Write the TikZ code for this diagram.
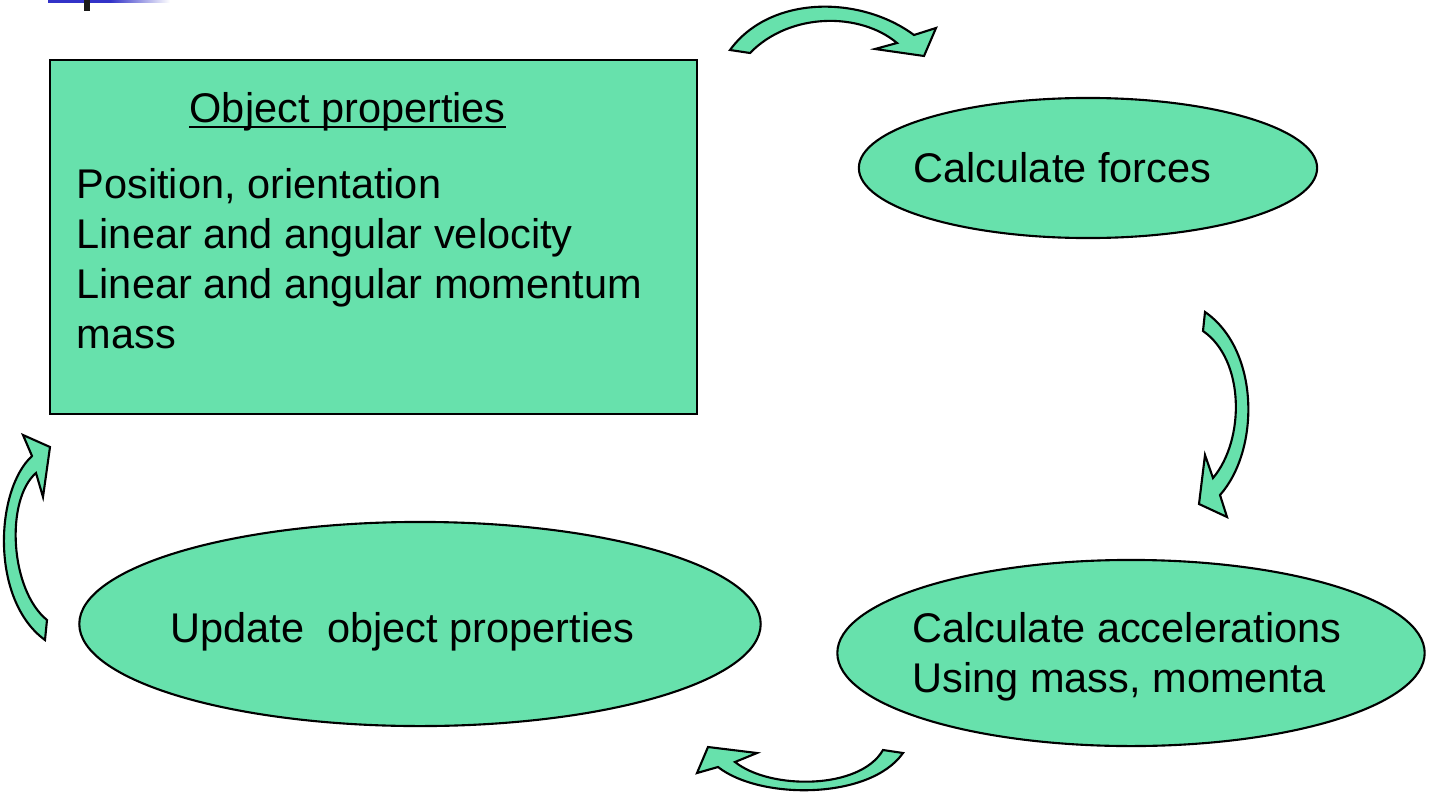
\documentclass[tikz,border=0pt]{standalone}
\usepackage{fontspec}
\setmainfont{Liberation Sans}
\usetikzlibrary{shapes.geometric}
\definecolor{stagefill}{RGB}{103,225,172}
\definecolor{barblue}{RGB}{50,50,200}

\begin{document}
\begin{tikzpicture}[x=0.01cm, y=-0.01cm,
    stage/.style ={ellipse, draw, fill=stagefill, line width=0.6pt, inner sep=0pt},
    propbox/.style ={rectangle, draw, fill=stagefill, line width=0.6pt, inner sep=0pt},
    caption/.style ={anchor=base west, inner sep=0pt, font=\fontsize{11.8}{14.2}\selectfont},
    bentarrow/.style ={draw, fill=stagefill, line width=0.6pt, line join=miter}]
   \useasboundingbox (0,0) rectangle (1430,800);

   % slide decoration
   \fill[barblue] (48,0) rectangle (110,3);
   \shade[left color=barblue, right color=white] (110,0) rectangle (170,3);
   \fill[black!90] (84,0) rectangle (90,11);

   % stages
   \node[propbox, minimum width=6.47cm, minimum height=3.54cm] (props) at (373.5,237) {};
   \node[stage, minimum width=4.58cm, minimum height=1.40cm] (forces) at (1088,168) {};
   \node[stage, minimum width=5.87cm, minimum height=1.86cm] (accel) at (1131,653) {};
   \node[stage, minimum width=6.81cm, minimum height=2.04cm] (update) at (420,624) {};

   % texts
   \node[caption] (title) at (189,122) {Object properties};
   \draw[line width=0.6pt] ([yshift=-0.05cm]title.base west) -- ([yshift=-0.05cm]title.base east);
   \foreach \txt [count=\i] in {{Position, orientation}, Linear and angular velocity,
       Linear and angular momentum, mass}
     \node[caption] (prop\i) at (76,148+50*\i) {\txt};
   \node[caption] (forcestext) at (913,182) {Calculate forces};
   \node[caption] (acceltext) at (912,642) {Calculate accelerations};
   \node[caption] (acceltext2) at (912,692) {Using mass, momenta};
   \node[caption] (updatetext) at (170,642) {Update\ \ object properties};

   % curved block arrows
   \draw[bentarrow] (730,50) .. controls (770,-5) and (860,-5) .. (914,35)
     -- (936,28) -- (924,56) -- (875,49) -- (897,43)
     .. controls (860,12) and (790,12) .. (750,53) -- cycle;
   \draw[bentarrow] (1205,312) .. controls (1260,350) and (1260,450) .. (1220,495)
     -- (1227,517) -- (1199,504) -- (1205,455) -- (1213,478)
     .. controls (1245,440) and (1245,360) .. (1203,331) -- cycle;
   \draw[bentarrow] (903,753) .. controls (870,800) and (760,800) .. (718,767)
     -- (697,773) -- (708,747) -- (757,753) -- (735,762)
     .. controls (770,790) and (860,790) .. (883,750) -- cycle;
   \draw[bentarrow] (45,640) .. controls (-10,600) and (-5,490) .. (32,456)
     -- (23,435) -- (50,447) -- (43,497) -- (36,473)
     .. controls (5,500) and (10,590) .. (47,620) -- cycle;
\end{tikzpicture}
\end{document}
